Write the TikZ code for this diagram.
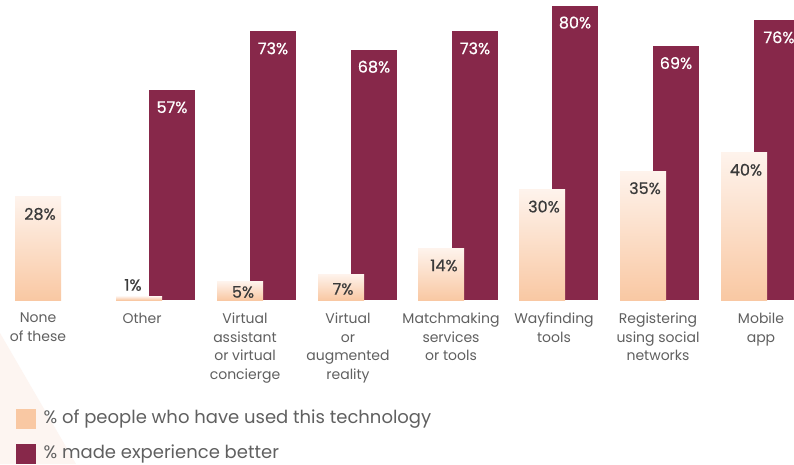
\documentclass[tikz,border=0pt]{standalone}
\usepackage{fontspec}
\setmainfont{Poppins}
\definecolor{peach}{HTML}{F9C8A3}
\definecolor{palepeach}{HTML}{FEF3EC}
\definecolor{wine}{HTML}{87284A}
\definecolor{blush}{HTML}{FDF5F1}
\definecolor{inkgray}{HTML}{3A3A3A}
\definecolor{labgray}{HTML}{606060}
\begin{document}
\begin{tikzpicture}[x=1pt,y=-1pt,
  bar/.style={anchor=south,minimum width=46pt,inner sep=0pt,outer sep=0pt},
  used/.style={bar,top color=palepeach,bottom color=peach,minimum height=3.68pt*#1},
  better/.style={bar,fill=wine,minimum height=3.68pt*#1},
  usedval/.style={font=\fontsize{16}{18}\selectfont\addfontfeature{FakeBold=0.6},text=inkgray,inner sep=0pt},
  betterval/.style={font=\fontsize{16}{18}\selectfont\addfontfeature{FakeBold=0.6},text=white,inner sep=0pt},
  cat/.style={anchor=north,align=center,font=\fontsize{14}{18.5}\selectfont,text=labgray,inner sep=0pt},
  key/.style={minimum size=20pt,inner sep=0pt,anchor=north west},
  keytext/.style={anchor=west,font=\fontsize{18}{20}\selectfont,text=labgray,inner sep=0pt}]
\fill[white] (0,0) rectangle (794,464);
\useasboundingbox (0,0) rectangle (794,464);
\fill[blush] (0,333) -- (76,464) -- (0,464) -- cycle;
% made experience better
\begin{scope}
\node[better=57] (b2) at (172,300) {};
\node[better=73] (b3) at (273,300) {};
\node[better=68] (b4) at (374,300) {};
\node[better=73] (b5) at (475,300) {};
\node[better=80] (b6) at (575,300) {};
\node[better=69] (b7) at (676,300) {};
\node[better=76] (b8) at (777,300) {};
\end{scope}
% have used this technology
\begin{scope}
\node[used=28] (u1) at (38,300) {};
\node[used=1] (u2) at (139,300) {};
\node[used=5] (u3) at (240,300) {};
\node[used=7] (u4) at (341,300) {};
\node[used=14] (u5) at (441,300) {};
\node[used=30] (u6) at (542,300) {};
\node[used=35] (u7) at (643,300) {};
\node[used=40] (u8) at (744,300) {};
\end{scope}
\begin{scope}
\node[betterval] (vb2) at ([yshift=-17pt]b2.north) {57\%};
\node[betterval] (vb3) at ([yshift=-17pt]b3.north) {73\%};
\node[betterval] (vb4) at ([yshift=-17pt]b4.north) {68\%};
\node[betterval] (vb5) at ([yshift=-17pt]b5.north) {73\%};
\node[betterval] (vb6) at ([yshift=-17pt]b6.north) {80\%};
\node[betterval] (vb7) at ([yshift=-17pt]b7.north) {69\%};
\node[betterval] (vb8) at ([xshift=2pt,yshift=-17pt]b8.north) {76\%};
\node[usedval] (vu1) at ([xshift=2pt,yshift=-17pt]u1.north) {28\%};
\node[usedval] (vu2) at (133,285) {1\%};
\node[usedval] (vu3) at (243,292) {5\%};
\node[usedval] (vu4) at (343,289) {7\%};
\node[usedval] (vu5) at ([xshift=3pt,yshift=-17pt]u5.north) {14\%};
\node[usedval] (vu6) at ([xshift=2pt,yshift=-17pt]u6.north) {30\%};
\node[usedval] (vu7) at ([xshift=2pt,yshift=-17pt]u7.north) {35\%};
\node[usedval] (vu8) at ([xshift=2pt,yshift=-17pt]u8.north) {40\%};
\end{scope}
% categories
\node[cat] (c1) at (38,313) {None\\of these};
\node[cat] (c2) at (142,313) {Other};
\node[cat] (c3) at (245,313) {Virtual\\assistant\\or virtual\\concierge};
\node[cat] (c4) at (348,313) {Virtual\\or\\augmented\\reality};
\node[cat] (c5) at (451,313) {Matchmaking\\services\\or tools};
\node[cat] (c6) at (554,313) {Wayfinding\\tools};
\node[cat] (c7) at (658,313) {Registering\\using social\\networks};
\node[cat] (c8) at (761,313) {Mobile\\app};
% legend
\node[key,fill=peach] (k1) at (16,409) {};
\node[keytext] (t1) at ([xshift=7pt]k1.east) {\% of people who have used this technology};
\node[key,fill=wine] (k2) at (16,444) {};
\node[keytext] (t2) at ([xshift=7pt]k2.east) {\% made experience better};
\end{tikzpicture}
\end{document}
